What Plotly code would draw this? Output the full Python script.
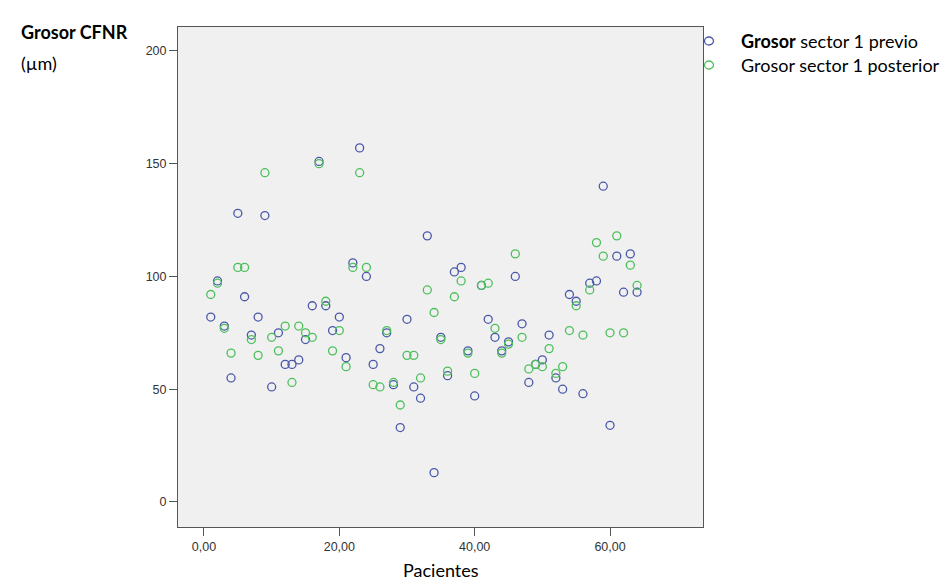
import plotly.graph_objects as go

pacientes = list(range(1, 65))
previo = [82, 98, 78, 55, 128, 91, 74, 82, 127, 51, 75, 61, 61, 63, 72, 87, 151, 87, 76, 82,
          64, 106, 157, 100, 61, 68, 75, 52, 33, 81, 51, 46, 118, 13, 73, 56, 102, 104, 67, 47,
          96, 81, 73, 67, 71, 100, 79, 53, 61, 63, 74, 55, 50, 92, 89, 48, 97, 98, 140, 34,
          109, 93, 110, 93]
posterior = [92, 97, 77, 66, 104, 104, 72, 65, 146, 73, 67, 78, 53, 78, 75, 73, 150, 89, 67, 76,
             60, 104, 146, 104, 52, 51, 76, 53, 43, 65, 65, 55, 94, 84, 72, 58, 91, 98, 66, 57,
             96, 97, 77, 66, 70, 110, 73, 59, 61, 60, 68, 57, 60, 76, 87, 74, 94, 115, 109, 75,
             118, 75, 105, 96]

x_tickvals = [0, 20, 40, 60]
x_ticktext = ["0,00", "20,00", "40,00", "60,00"]
y_tickvals = [0, 50, 100, 150, 200]
y_ticktext = ["0", "50", "100", "150", "200"]

BLUE = "#4a58a8"
GREEN = "#4cc05a"

fig = go.Figure()
fig.add_trace(go.Scatter(x=pacientes, y=previo, mode="markers", name="Grosor sector 1 previo",
                         marker=dict(symbol="circle-open", size=8, color=BLUE, line=dict(width=1.3))))
fig.add_trace(go.Scatter(x=pacientes, y=posterior, mode="markers", name="Grosor sector 1 posterior",
                         marker=dict(symbol="circle-open", size=8, color=GREEN, line=dict(width=1.3))))

L, R, T, B = 170, 255, 19, 67
W, H = 950, 586
pw, ph = W - L - R, H - T - B

def px(x):
    return (x - L) / pw

def py(y):
    return (H - B - y) / ph

tickfont = dict(family="Liberation Sans, Arial", size=12.5, color="#333333")
fig.update_layout(
    width=W, height=H,
    margin=dict(l=L, r=R, t=T, b=B, pad=0),
    paper_bgcolor="white",
    plot_bgcolor="#f0f0f0",
    showlegend=False,
    xaxis=dict(range=[-3.84, 73.74], tickvals=x_tickvals, ticktext=x_ticktext,
               showgrid=False, zeroline=False, showline=True, mirror=True,
               linecolor="#555555", linewidth=1, ticks="outside", ticklen=8,
               tickcolor="#555555", tickfont=tickfont),
    yaxis=dict(range=[-11.1, 210.6], tickvals=y_tickvals, ticktext=y_ticktext,
               showgrid=False, zeroline=False, showline=True, mirror=True,
               linecolor="#555555", linewidth=1, ticks="outside", ticklen=8,
               tickcolor="#555555", tickfont=tickfont),
)

title_font = dict(family="Lato, Noto Sans", size=18, color="black")
fig.add_annotation(x=px(11), y=py(24), xref="paper", yref="paper", text="<b>Grosor CFNR</b>",
                   showarrow=False, xanchor="left", yanchor="middle", font=title_font)
fig.add_annotation(x=px(11), y=py(55), xref="paper", yref="paper", text="(µm)",
                   showarrow=False, xanchor="left", yanchor="middle", font=title_font)
fig.add_annotation(x=0.5, y=py(562), xref="paper", yref="paper", text="Pacientes",
                   showarrow=False, xanchor="center", yanchor="middle",
                   font=dict(family="Lato, Noto Sans", size=18, color="black"))

# legend
leg = [("<b>Grosor</b> sector 1 previo", BLUE, 33), ("Grosor sector 1 posterior", GREEN, 57)]
for text, col, yy in leg:
    fig.add_shape(type="circle", xref="paper", yref="paper", xsizemode="pixel", ysizemode="pixel",
                  xanchor=px(701), yanchor=py(yy), x0=-4.5, x1=4.5, y0=-4, y1=4,
                  line=dict(color=col, width=1.3))
    fig.add_annotation(x=px(731), y=py(yy), xref="paper", yref="paper", text=text,
                       showarrow=False, xanchor="left", yanchor="middle",
                       font=dict(family="Lato, Noto Sans", size=18, color="black"))

fig.write_html("out.html")
